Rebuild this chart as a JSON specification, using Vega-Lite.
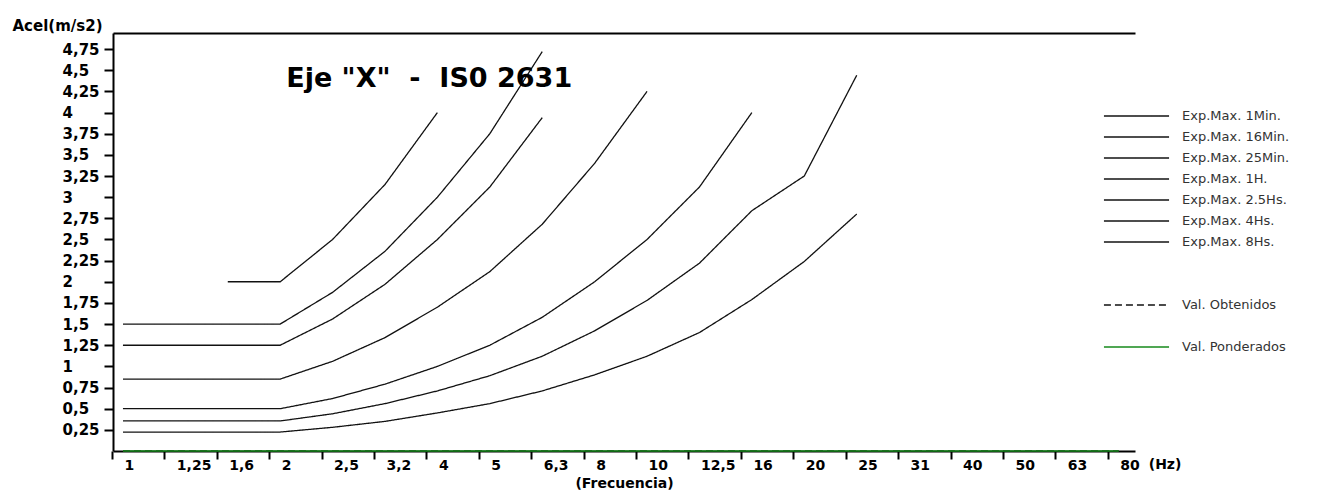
{
  "$schema": "https://vega.github.io/schema/vega-lite/v6.json",
  "width": 1022,
  "height": 418,
  "autosize": {"type": "none"},
  "padding": {"left": 113, "top": 33, "right": 190, "bottom": 52},
  "background": "white",
  "config": {
    "view": {"stroke": null},
    "font": "DejaVu Sans",
    "axisY": {"labelOverlap": false, "labelBound": false, "labelFlush": false},
    "axisX": {"labelOverlap": false, "labelBound": false, "labelFlush": false},
    "legend": {
      "orient": "none",
      "legendX": 1012,
      "legendY": 71.5,
      "symbolSize": 441,
      "labelOffset": 34,
      "labelFont": "DejaVu Sans",
      "labelFontSize": 13,
      "labelColor": "#333333",
      "rowPadding": 2,
      "padding": 0,
      "offset": 0
    }
  },
  "datasets": {
    "curvas": [
      {"serie": "Exp.Max. 1Min.", "f": "1,6", "v": 2.0},
      {"serie": "Exp.Max. 1Min.", "f": "2", "v": 2.0},
      {"serie": "Exp.Max. 1Min.", "f": "2,5", "v": 2.5},
      {"serie": "Exp.Max. 1Min.", "f": "3,2", "v": 3.15},
      {"serie": "Exp.Max. 1Min.", "f": "4", "v": 4.0},
      {"serie": "Exp.Max. 16Min.", "f": "1", "v": 1.5},
      {"serie": "Exp.Max. 16Min.", "f": "1,25", "v": 1.5},
      {"serie": "Exp.Max. 16Min.", "f": "1,6", "v": 1.5},
      {"serie": "Exp.Max. 16Min.", "f": "2", "v": 1.5},
      {"serie": "Exp.Max. 16Min.", "f": "2,5", "v": 1.875},
      {"serie": "Exp.Max. 16Min.", "f": "3,2", "v": 2.36},
      {"serie": "Exp.Max. 16Min.", "f": "4", "v": 3.0},
      {"serie": "Exp.Max. 16Min.", "f": "5", "v": 3.75},
      {"serie": "Exp.Max. 16Min.", "f": "6,3", "v": 4.72},
      {"serie": "Exp.Max. 25Min.", "f": "1", "v": 1.25},
      {"serie": "Exp.Max. 25Min.", "f": "1,25", "v": 1.25},
      {"serie": "Exp.Max. 25Min.", "f": "1,6", "v": 1.25},
      {"serie": "Exp.Max. 25Min.", "f": "2", "v": 1.25},
      {"serie": "Exp.Max. 25Min.", "f": "2,5", "v": 1.56},
      {"serie": "Exp.Max. 25Min.", "f": "3,2", "v": 1.97},
      {"serie": "Exp.Max. 25Min.", "f": "4", "v": 2.5},
      {"serie": "Exp.Max. 25Min.", "f": "5", "v": 3.12},
      {"serie": "Exp.Max. 25Min.", "f": "6,3", "v": 3.94},
      {"serie": "Exp.Max. 1H.", "f": "1", "v": 0.85},
      {"serie": "Exp.Max. 1H.", "f": "1,25", "v": 0.85},
      {"serie": "Exp.Max. 1H.", "f": "1,6", "v": 0.85},
      {"serie": "Exp.Max. 1H.", "f": "2", "v": 0.85},
      {"serie": "Exp.Max. 1H.", "f": "2,5", "v": 1.06},
      {"serie": "Exp.Max. 1H.", "f": "3,2", "v": 1.34},
      {"serie": "Exp.Max. 1H.", "f": "4", "v": 1.7},
      {"serie": "Exp.Max. 1H.", "f": "5", "v": 2.12},
      {"serie": "Exp.Max. 1H.", "f": "6,3", "v": 2.68},
      {"serie": "Exp.Max. 1H.", "f": "8", "v": 3.4},
      {"serie": "Exp.Max. 1H.", "f": "10", "v": 4.25},
      {"serie": "Exp.Max. 2.5Hs.", "f": "1", "v": 0.5},
      {"serie": "Exp.Max. 2.5Hs.", "f": "1,25", "v": 0.5},
      {"serie": "Exp.Max. 2.5Hs.", "f": "1,6", "v": 0.5},
      {"serie": "Exp.Max. 2.5Hs.", "f": "2", "v": 0.5},
      {"serie": "Exp.Max. 2.5Hs.", "f": "2,5", "v": 0.62},
      {"serie": "Exp.Max. 2.5Hs.", "f": "3,2", "v": 0.79},
      {"serie": "Exp.Max. 2.5Hs.", "f": "4", "v": 1.0},
      {"serie": "Exp.Max. 2.5Hs.", "f": "5", "v": 1.25},
      {"serie": "Exp.Max. 2.5Hs.", "f": "6,3", "v": 1.58},
      {"serie": "Exp.Max. 2.5Hs.", "f": "8", "v": 2.0},
      {"serie": "Exp.Max. 2.5Hs.", "f": "10", "v": 2.5},
      {"serie": "Exp.Max. 2.5Hs.", "f": "12,5", "v": 3.12},
      {"serie": "Exp.Max. 2.5Hs.", "f": "16", "v": 4.0},
      {"serie": "Exp.Max. 4Hs.", "f": "1", "v": 0.355},
      {"serie": "Exp.Max. 4Hs.", "f": "1,25", "v": 0.355},
      {"serie": "Exp.Max. 4Hs.", "f": "1,6", "v": 0.355},
      {"serie": "Exp.Max. 4Hs.", "f": "2", "v": 0.355},
      {"serie": "Exp.Max. 4Hs.", "f": "2,5", "v": 0.44},
      {"serie": "Exp.Max. 4Hs.", "f": "3,2", "v": 0.56},
      {"serie": "Exp.Max. 4Hs.", "f": "4", "v": 0.71},
      {"serie": "Exp.Max. 4Hs.", "f": "5", "v": 0.89},
      {"serie": "Exp.Max. 4Hs.", "f": "6,3", "v": 1.12},
      {"serie": "Exp.Max. 4Hs.", "f": "8", "v": 1.42},
      {"serie": "Exp.Max. 4Hs.", "f": "10", "v": 1.78},
      {"serie": "Exp.Max. 4Hs.", "f": "12,5", "v": 2.22},
      {"serie": "Exp.Max. 4Hs.", "f": "16", "v": 2.84},
      {"serie": "Exp.Max. 4Hs.", "f": "20", "v": 3.25},
      {"serie": "Exp.Max. 4Hs.", "f": "25", "v": 4.44},
      {"serie": "Exp.Max. 8Hs.", "f": "1", "v": 0.224},
      {"serie": "Exp.Max. 8Hs.", "f": "1,25", "v": 0.224},
      {"serie": "Exp.Max. 8Hs.", "f": "1,6", "v": 0.224},
      {"serie": "Exp.Max. 8Hs.", "f": "2", "v": 0.224},
      {"serie": "Exp.Max. 8Hs.", "f": "2,5", "v": 0.28},
      {"serie": "Exp.Max. 8Hs.", "f": "3,2", "v": 0.35},
      {"serie": "Exp.Max. 8Hs.", "f": "4", "v": 0.45},
      {"serie": "Exp.Max. 8Hs.", "f": "5", "v": 0.56},
      {"serie": "Exp.Max. 8Hs.", "f": "6,3", "v": 0.71},
      {"serie": "Exp.Max. 8Hs.", "f": "8", "v": 0.9},
      {"serie": "Exp.Max. 8Hs.", "f": "10", "v": 1.12},
      {"serie": "Exp.Max. 8Hs.", "f": "12,5", "v": 1.4},
      {"serie": "Exp.Max. 8Hs.", "f": "16", "v": 1.79},
      {"serie": "Exp.Max. 8Hs.", "f": "20", "v": 2.24},
      {"serie": "Exp.Max. 8Hs.", "f": "25", "v": 2.8},
      {"serie": "Val. Obtenidos", "f": "1", "v": 0},
      {"serie": "Val. Obtenidos", "f": "1,25", "v": 0},
      {"serie": "Val. Obtenidos", "f": "1,6", "v": 0},
      {"serie": "Val. Obtenidos", "f": "2", "v": 0},
      {"serie": "Val. Obtenidos", "f": "2,5", "v": 0},
      {"serie": "Val. Obtenidos", "f": "3,2", "v": 0},
      {"serie": "Val. Obtenidos", "f": "4", "v": 0},
      {"serie": "Val. Obtenidos", "f": "5", "v": 0},
      {"serie": "Val. Obtenidos", "f": "6,3", "v": 0},
      {"serie": "Val. Obtenidos", "f": "8", "v": 0},
      {"serie": "Val. Obtenidos", "f": "10", "v": 0},
      {"serie": "Val. Obtenidos", "f": "12,5", "v": 0},
      {"serie": "Val. Obtenidos", "f": "16", "v": 0},
      {"serie": "Val. Obtenidos", "f": "20", "v": 0},
      {"serie": "Val. Obtenidos", "f": "25", "v": 0},
      {"serie": "Val. Obtenidos", "f": "31", "v": 0},
      {"serie": "Val. Obtenidos", "f": "40", "v": 0},
      {"serie": "Val. Obtenidos", "f": "50", "v": 0},
      {"serie": "Val. Obtenidos", "f": "63", "v": 0},
      {"serie": "Val. Obtenidos", "f": "80", "v": 0},
      {"serie": "Val. Ponderados", "f": "1", "v": 0},
      {"serie": "Val. Ponderados", "f": "1,25", "v": 0},
      {"serie": "Val. Ponderados", "f": "1,6", "v": 0},
      {"serie": "Val. Ponderados", "f": "2", "v": 0},
      {"serie": "Val. Ponderados", "f": "2,5", "v": 0},
      {"serie": "Val. Ponderados", "f": "3,2", "v": 0},
      {"serie": "Val. Ponderados", "f": "4", "v": 0},
      {"serie": "Val. Ponderados", "f": "5", "v": 0},
      {"serie": "Val. Ponderados", "f": "6,3", "v": 0},
      {"serie": "Val. Ponderados", "f": "8", "v": 0},
      {"serie": "Val. Ponderados", "f": "10", "v": 0},
      {"serie": "Val. Ponderados", "f": "12,5", "v": 0},
      {"serie": "Val. Ponderados", "f": "16", "v": 0},
      {"serie": "Val. Ponderados", "f": "20", "v": 0},
      {"serie": "Val. Ponderados", "f": "25", "v": 0},
      {"serie": "Val. Ponderados", "f": "31", "v": 0},
      {"serie": "Val. Ponderados", "f": "40", "v": 0},
      {"serie": "Val. Ponderados", "f": "50", "v": 0},
      {"serie": "Val. Ponderados", "f": "63", "v": 0},
      {"serie": "Val. Ponderados", "f": "80", "v": 0}
    ],
    "titulo": [
      {"t": "Eje \"X\"\u00a0\u00a0-\u00a0\u00a0IS0 2631", "f": "2", "v": 4.4}
    ],
    "unidad": [
      {"t": "(Hz)", "f": "80", "v": 0}
    ]
  },
  "resolve": {"axis": {"x": "independent", "y": "independent"}},
  "layer": [
    {
      "data": {"name": "curvas"},
      "mark": {"type": "line", "interpolate": "linear"},
      "encoding": {
        "x": {
          "field": "f",
          "type": "ordinal",
          "sort": ["1", "1,25", "1,6", "2", "2,5", "3,2", "4", "5", "6,3", "8", "10", "12,5", "16", "20", "25", "31", "40", "50", "63", "80"],
          "scale": {
            "type": "point",
            "domain": ["1", "1,25", "1,6", "2", "2,5", "3,2", "4", "5", "6,3", "8", "10", "12,5", "16", "20", "25", "31", "40", "50", "63", "80"],
            "padding": 0.25,
            "align": 0.38
          },
          "axis": {
            "title": "(Frecuencia)",
            "titleFont": "DejaVu Sans",
            "titleFontSize": 14,
            "titleFontWeight": "bold",
            "titleColor": "black",
            "titlePadding": 4,
            "labelFont": "DejaVu Sans",
            "labelFontSize": 14,
            "labelFontWeight": "bold",
            "labelColor": "black",
            "labelAlign": "left",
            "labelBaseline": "top",
            "labelAngle": 0,
            "labelPadding": -1,
            "labelOffset": 12,
            "tickOffset": -11,
            "tickSize": 8,
            "tickWidth": 2,
            "tickColor": "black",
            "domainColor": "black",
            "domainWidth": 2,
            "grid": false,
            "labelOverlap": false,
            "labelBound": false,
            "labelFlush": false
          }
        },
        "y": {
          "field": "v",
          "type": "quantitative",
          "scale": {"domain": [0, 4.94], "nice": false, "zero": true},
          "axis": {
            "values": [0.25, 0.5, 0.75, 1, 1.25, 1.5, 1.75, 2, 2.25, 2.5, 2.75, 3, 3.25, 3.5, 3.75, 4, 4.25, 4.5, 4.75],
            "labelExpr": "replace(format(datum.value, '~g'), '.', ',')",
            "title": "Acel(m/s2)",
            "titleAngle": 0,
            "titleAlign": "left",
            "titleBaseline": "middle",
            "titleX": -101,
            "titleY": -8,
            "titleFont": "DejaVu Sans",
            "titleFontSize": 15,
            "titleFontWeight": "bold",
            "titleColor": "black",
            "labelFont": "DejaVu Sans",
            "labelFontSize": 15,
            "labelFontWeight": "bold",
            "labelColor": "black",
            "labelAlign": "left",
            "labelPadding": 42,
            "tickSize": 9,
            "tickWidth": 2,
            "tickColor": "black",
            "domainColor": "black",
            "domainWidth": 2,
            "grid": false,
            "labelOverlap": false,
            "labelBound": false,
            "labelFlush": false
          }
        },
        "color": {
          "field": "serie",
          "type": "nominal",
          "scale": {
            "domain": ["Exp.Max. 1Min.", "Exp.Max. 16Min.", "Exp.Max. 25Min.", "Exp.Max. 1H.", "Exp.Max. 2.5Hs.", "Exp.Max. 4Hs.", "Exp.Max. 8Hs.", " ", "  ", "Val. Obtenidos", "   ", "Val. Ponderados"],
            "range": ["#111111", "#111111", "#111111", "#111111", "#111111", "#111111", "#111111", "transparent", "transparent", "#111111", "transparent", "#15891a"]
          },
          "legend": {"title": null, "symbolType": "M-3.1,0H3.1"}
        },
        "strokeDash": {
          "field": "serie",
          "type": "nominal",
          "scale": {
            "domain": ["Exp.Max. 1Min.", "Exp.Max. 16Min.", "Exp.Max. 25Min.", "Exp.Max. 1H.", "Exp.Max. 2.5Hs.", "Exp.Max. 4Hs.", "Exp.Max. 8Hs.", " ", "  ", "Val. Obtenidos", "   ", "Val. Ponderados"],
            "range": [[1, 0], [1, 0], [1, 0], [1, 0], [1, 0], [1, 0], [1, 0], [1, 0], [1, 0], [7, 4], [1, 0], [1, 0]]
          },
          "legend": {"title": null, "symbolType": "M-3.1,0H3.1"}
        },
        "strokeWidth": {
          "field": "serie",
          "type": "nominal",
          "scale": {
            "domain": ["Exp.Max. 1Min.", "Exp.Max. 16Min.", "Exp.Max. 25Min.", "Exp.Max. 1H.", "Exp.Max. 2.5Hs.", "Exp.Max. 4Hs.", "Exp.Max. 8Hs.", " ", "  ", "Val. Obtenidos", "   ", "Val. Ponderados"],
            "range": [1.3, 1.3, 1.3, 1.3, 1.3, 1.3, 1.3, 1, 1, 2.5, 1, 3]
          },
          "legend": {"title": null, "symbolType": "M-3.1,0H3.1"}
        }
      }
    },
    {
      "data": {"name": "titulo"},
      "mark": {"type": "text", "align": "left", "baseline": "middle", "dx": 6, "font": "DejaVu Sans", "fontSize": 27, "fontWeight": "bold", "color": "black"},
      "encoding": {
        "x": {
          "field": "f",
          "type": "ordinal",
          "axis": {"orient": "top", "labels": false, "ticks": false, "title": null, "domainColor": "black", "domainWidth": 2, "grid": false}
        },
        "y": {"field": "v", "type": "quantitative", "axis": null},
        "text": {"field": "t"}
      }
    },
    {
      "data": {"name": "unidad"},
      "mark": {"type": "text", "align": "left", "baseline": "top", "dx": 30, "dy": 7, "font": "DejaVu Sans", "fontSize": 14, "fontWeight": "bold", "color": "black"},
      "encoding": {
        "x": {"field": "f", "type": "ordinal", "axis": null},
        "y": {"field": "v", "type": "quantitative", "axis": null},
        "text": {"field": "t"}
      }
    }
  ]
}
